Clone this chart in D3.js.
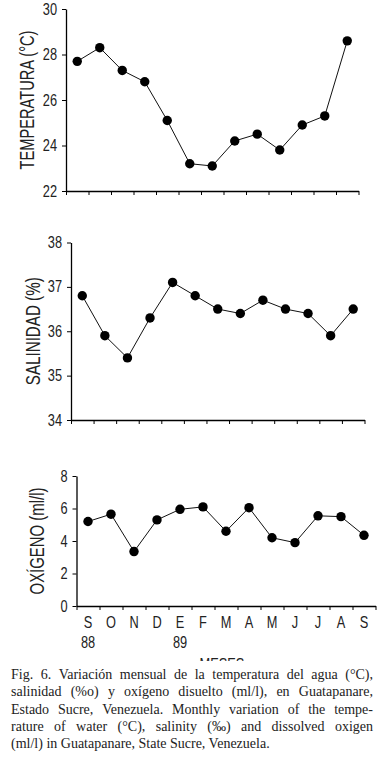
<!DOCTYPE html>
<html>
<head>
<meta charset="utf-8">
<script src="https://cdn.jsdelivr.net/npm/d3@7"></script>
<style>
  body { margin: 0; background: #fff; }
  svg { display: block; }
</style>
</head>
<body>
<script>
// monthly samples, Sep 88 - Sep 89
const months = ["S", "O", "N", "D", "E", "F", "M", "A", "M", "J", "J", "A", "S"];
const yearLabels = [{ i: 0, text: "88" }, { i: 4, text: "89" }];

const temperatura = [27.7, 28.3, 27.3, 26.8, 25.1, 23.2, 23.1, 24.2, 24.5, 23.8, 24.9, 25.3, 28.6];
const salinidad = [36.8, 35.9, 35.4, 36.3, 37.1, 36.8, 36.5, 36.4, 36.7, 36.5, 36.4, 35.9, 36.5];
const oxigeno = [5.2, 5.65, 3.35, 5.3, 5.95, 6.1, 4.6, 6.05, 4.2, 3.9, 5.55, 5.5, 4.35];

const tempTicks = [22, 24, 26, 28, 30];
const salTicks = [34, 35, 36, 37, 38];
const oxTicks = [0, 2, 4, 6, 8];

const caption = [
  "Fig. 6. Variación mensual de la temperatura del agua (°C),",
  "salinidad (%o) y oxígeno disuelto (ml/l), en Guatapanare,",
  "Estado Sucre, Venezuela. Monthly variation of the tempe-",
  "rature of water (°C), salinity (‰) and dissolved oxigen",
  "(ml/l) in Guatapanare, State Sucre, Venezuela."
];

const width = 382, height = 764;
// no condensed face installed, so squeeze Liberation Sans horizontally
const sans = "'Liberation Sans', Arial, sans-serif";
const squeeze = 0.8;

const svg = d3.select("body").append("svg")
    .attr("width", width)
    .attr("height", height);

// narrow a text in place around its anchor point
function condense(sel, f) {
  sel.each(function() {
    const t = d3.select(this);
    const x0 = +t.attr("x") || 0, y0 = +t.attr("y") || 0;
    t.attr("x", 0).attr("y", 0)
     .attr("transform", `translate(${x0},${y0}) scale(${f},1)`);
  });
}

// panels drift a little to the right down the page (as in the scan)
const panels = [
  { values: temperatura, ticks: tempTicks, domain: [22, 30], title: "TEMPERATURA (°C)",
    left: 66, right: 358.5, top: 9, bottom: 191, titleX: 27, titleLen: 139 },
  { values: salinidad, ticks: salTicks, domain: [34, 38], title: "SALINIDAD (%)",
    left: 71, right: 364.5, top: 242.5, bottom: 420, titleX: 33, titleLen: 108 },
  { values: oxigeno, ticks: oxTicks, domain: [0, 8], title: "OXÍGENO (ml/l)",
    left: 76.5, right: 375.5, top: 476, bottom: 606, titleX: 37, titleLen: 107 }
];

panels.forEach((p, k) => {
  const g = svg.append("g");

  const x = d3.scaleBand()
      .domain(d3.range(months.length))
      .range([p.left, p.right]);
  const xEdge = d3.scaleLinear()
      .domain([0, months.length])
      .range([p.left, p.right]);
  const y = d3.scaleLinear()
      .domain(p.domain)
      .range([p.bottom, p.top]);

  // x axis with ticks on the month boundaries
  const xa = g.append("g")
      .attr("transform", `translate(0,${p.bottom})`)
      .call(d3.axisBottom(xEdge)
        .tickValues(d3.range(months.length + 1))
        .tickSize(4)
        .tickSizeOuter(0)
        .tickFormat(""));
  xa.select(".domain").attr("stroke-width", 1.3);
  xa.selectAll(".tick line").attr("stroke-width", 1);

  // y axis
  const ya = g.append("g")
      .attr("transform", `translate(${p.left},0)`)
      .call(d3.axisLeft(y)
        .tickValues(p.ticks)
        .tickSize(4)
        .tickSizeOuter(0)
        .tickPadding(5)
        .tickFormat(d3.format("d")));
  ya.select(".domain").attr("stroke-width", 1.3);
  ya.selectAll(".tick text")
      .attr("font-family", sans)
      .attr("font-size", 16)
      .attr("fill", "#222")
      .call(condense, squeeze);

  // axis title, fitted to the length it has in the figure
  const title = g.append("text")
      .attr("text-anchor", "middle")
      .attr("dy", "0.35em")
      .attr("font-family", sans)
      .attr("font-size", 21)
      .attr("fill", "#222")
      .text(p.title);
  const f = p.titleLen / title.node().getComputedTextLength();
  title.attr("transform",
    `translate(${p.titleX},${(p.top + p.bottom) / 2}) rotate(-90) scale(${f},1)`);

  // line + dots
  const line = d3.line()
      .x((d, i) => x(i) + x.bandwidth() / 2)
      .y(d => y(d));

  g.append("path")
      .datum(p.values)
      .attr("fill", "none")
      .attr("stroke", "#111")
      .attr("stroke-width", 1)
      .attr("d", line);

  g.selectAll("circle")
    .data(p.values)
    .join("circle")
      .attr("cx", (d, i) => x(i) + x.bandwidth() / 2)
      .attr("cy", d => y(d))
      .attr("r", 4.7)
      .attr("fill", "#000");

  // month and year labels only under the last panel
  if (k === panels.length - 1) {
    g.selectAll(".month")
      .data(months)
      .join("text")
        .attr("class", "month")
        .attr("x", (d, i) => x(i) + x.bandwidth() / 2)
        .attr("y", p.bottom + 22)
        .attr("text-anchor", "middle")
        .attr("font-family", sans)
        .attr("font-size", 16)
        .attr("fill", "#222")
        .text(d => d)
        .call(condense, squeeze);

    g.selectAll(".year")
      .data(yearLabels)
      .join("text")
        .attr("class", "year")
        .attr("x", d => x(d.i) + x.bandwidth() / 2)
        .attr("y", p.bottom + 42)
        .attr("text-anchor", "middle")
        .attr("font-family", sans)
        .attr("font-size", 16)
        .attr("fill", "#222")
        .text(d => d.text)
        .call(condense, squeeze);

    // "MESES" is mostly cut off by the caption in the original
    svg.append("clipPath").attr("id", "cut")
      .append("rect").attr("x", 0).attr("y", 658).attr("width", width).attr("height", 3);
    g.append("g")
        .attr("clip-path", "url(#cut)")
      .append("text")
        .attr("x", (p.left + p.right) / 2 - 4)
        .attr("y", 670)
        .attr("text-anchor", "middle")
        .attr("font-family", sans)
        .attr("font-size", 16)
        .attr("fill", "#222")
        .text("MESES")
        .call(condense, squeeze);
  }
});

// caption, justified except for the last line
const cap = svg.append("g")
    .attr("font-family", "'Liberation Serif', 'Times New Roman', serif")
    .attr("font-size", 14)
    .attr("fill", "#222");

const capLeft = 11, capRight = 373, lineH = 17.3, firstBase = 679;

caption.forEach((txt, i) => {
  const yy = firstBase + i * lineH;
  const words = txt.split(" ");
  if (i === caption.length - 1) {
    cap.append("text").attr("x", capLeft).attr("y", yy).text(txt);
    return;
  }
  const ws = words.map(w => {
    const t = cap.append("text").attr("y", yy).text(w);
    return { node: t, w: t.node().getComputedTextLength() };
  });
  const total = d3.sum(ws, d => d.w);
  const gap = (capRight - capLeft - total) / (ws.length - 1);
  let cx = capLeft;
  ws.forEach(d => {
    d.node.attr("x", cx);
    cx += d.w + gap;
  });
});
</script>
</body>
</html>
